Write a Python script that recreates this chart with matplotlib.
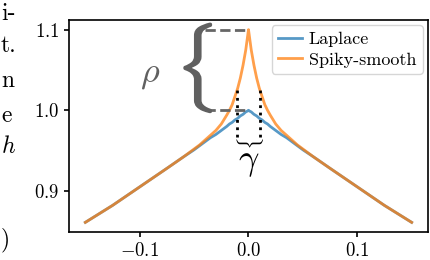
import numpy as np
import matplotlib
matplotlib.use('Agg')
import matplotlib.pyplot as plt
import matplotlib.patheffects as pe

plt.rcParams['font.family'] = 'serif'
plt.rcParams['font.serif'] = ['cmr10']
plt.rcParams['mathtext.fontset'] = 'cm'
plt.rcParams['axes.formatter.use_mathtext'] = True

# values
x = [-0.15, -0.125, -0.1, -0.075, -0.06, -0.05, -0.045, -0.04, -0.035, -0.03, -0.025,
     -0.02, -0.0175, -0.015, -0.0125, -0.01, -0.0075, -0.005, -0.0025, -0.001, 0.0,
     0.001, 0.0025, 0.005, 0.0075, 0.01, 0.0125, 0.015, 0.0175, 0.02,
     0.025, 0.03, 0.035, 0.04, 0.045, 0.05, 0.06, 0.075, 0.1, 0.125, 0.15]
laplace = [0.861, 0.882, 0.905, 0.928, 0.942, 0.951, 0.956, 0.961, 0.966, 0.970, 0.975,
           0.980, 0.983, 0.985, 0.988, 0.990, 0.993, 0.995, 0.998, 0.999, 1.000,
           0.999, 0.998, 0.995, 0.993, 0.990, 0.988, 0.985, 0.983, 0.980,
           0.975, 0.970, 0.966, 0.961, 0.956, 0.951, 0.942, 0.928, 0.905, 0.882, 0.861]
spiky = [0.861, 0.882, 0.905, 0.928, 0.942, 0.952, 0.957, 0.963, 0.969, 0.975, 0.983,
         0.994, 1.000, 1.007, 1.017, 1.027, 1.040, 1.056, 1.075, 1.090, 1.100,
         1.090, 1.075, 1.056, 1.040, 1.027, 1.017, 1.007, 1.000, 0.994,
         0.983, 0.975, 0.969, 0.963, 0.957, 0.952, 0.942, 0.928, 0.905, 0.882, 0.861]
xticks = [-0.1, 0.0, 0.1]
yticks = [0.9, 1.0, 1.1]
rho = 0.1          # spike height
gam = 0.011        # half width of spike marker
rho_left = -0.04   # where the dashed lines start

fig = plt.figure(figsize=(4.3, 2.6), dpi=100)
ax = fig.add_axes([0.1605, 0.1077, 0.8348, 0.8153])

ax.plot(x, laplace, color='#1f77b4', alpha=0.75, lw=2, label='Laplace')
ax.plot(x, spiky, color='#ff7f0e', alpha=0.75, lw=2, label='Spiky-smooth')

# rho: dashed levels + big brace
ax.plot([rho_left, 0.0], [1.0 + rho, 1.0 + rho], '--', color='#666666', lw=2)
ax.plot([rho_left, 0.0], [1.0, 1.0], '--', color='#666666', lw=2)
ax.text(rho_left - 0.0095, 1.0 + rho / 2 + 0.002, r'$\{$', fontsize=53, color='#606060',
        ha='center', va='center',
        path_effects=[pe.withStroke(linewidth=1.6, foreground='#606060')])
ax.text(-0.09, 1.044, r'$\rho$', fontsize=26, color='#606060', ha='center', va='center')

# gamma: dotted width + small brace
ax.plot([-gam, -gam], [0.967, 1.026], ':', color='k', lw=2)
ax.plot([gam, gam], [0.967, 1.026], ':', color='k', lw=2)
ax.text(0.0, 0.962, r'$\}$', fontsize=16, color='k', rotation=-90,
        rotation_mode='anchor', ha='center', va='center')
ax.text(0.0, 0.935, r'$\gamma$', fontsize=26, color='k', ha='center', va='center')

ax.set_xticks(xticks)
ax.set_yticks(yticks)
ax.tick_params(labelsize=13.5, width=1.2)
for s in ax.spines.values():
    s.set_linewidth(1.2)
ax.legend(loc='upper right', fontsize=13, handlelength=1.3, borderaxespad=0.3,
          labelspacing=0.25, borderpad=0.35, handletextpad=0.4)

# cut off text of the surrounding page
for s, xx, yy in [('i-', 1, 20), ('t.', 1, 52), ('n', 1, 87), ('e', 1, 122),
                  ('$h$', 1, 153), (')', 1, 245)]:
    fig.text(xx / 430, 1 - yy / 260, s, fontsize=17, ha='left', va='baseline')

fig.savefig('out.png', dpi=100)
